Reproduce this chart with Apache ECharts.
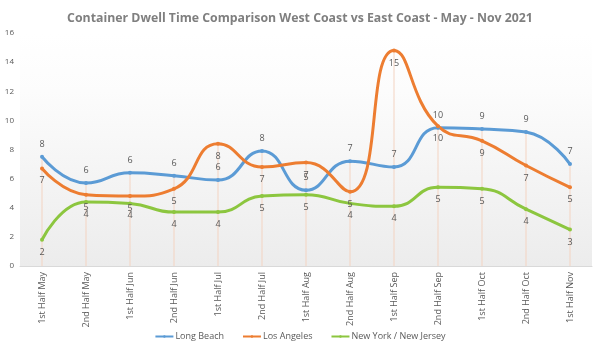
<!DOCTYPE html>
<html>
<head>
<meta charset="utf-8">
<script src="https://cdn.jsdelivr.net/npm/echarts@6/dist/echarts.min.js"></script>
<style>
  html, body { margin: 0; padding: 0; background: #fff; }
  #main { width: 600px; height: 352px; }
</style>
</head>
<body>
<div id="main"></div>
<script>
var categories = ['1st Half May', '2nd Half May', '1st Half Jun', '2nd Half Jun', '1st Half Jul', '2nd Half Jul',
  '1st Half Aug', '2nd Half Aug', '1st Half Sep', '2nd Half Sep', '1st Half Oct', '2nd Half Oct', '1st Half Nov'];
var longBeach = [7.5, 5.7, 6.4, 6.2, 5.9, 7.9, 5.2, 7.2, 6.8, 9.5, 9.4, 9.2, 7.0];
var losAngeles = [6.7, 4.9, 4.8, 5.3, 8.4, 6.8, 7.1, 5.1, 14.8, 9.6, 8.6, 6.9, 5.4];
var newYork = [1.8, 4.4, 4.3, 3.7, 3.7, 4.8, 4.9, 4.3, 4.1, 5.4, 5.3, 3.9, 2.5];

// drop lines go up to the highest point of each category
var dropLines = categories.map(function (c, i) {
  return Math.max(longBeach[i], losAngeles[i], newYork[i]);
});

var labelColor = '#595959';
var fontFam = '"Open Sans", "Liberation Sans", sans-serif';

var myChart = echarts.init(document.getElementById('main'));

function lineSeries(name, data, color, pos) {
  return {
    name: name,
    type: 'line',
    smooth: 0.5,
    data: data,
    symbol: 'circle',
    symbolSize: 4,
    itemStyle: { color: color },
    lineStyle: { color: color, width: 3 },
    z: 3,
    label: {
      show: true,
      position: pos,
      distance: 6,
      fontSize: 9,
      color: labelColor,
      fontFamily: fontFam,
      formatter: function (p) {
        return Math.round(p.value);
      }
    }
  };
}

myChart.setOption({
  animation: false,
  title: {
    text: 'Container Dwell Time Comparison West Coast vs East Coast - May - Nov 2021',
    left: 'center',
    top: 7,
    textStyle: { color: '#7f7f7f', fontSize: 12.3, fontWeight: 'bold', fontFamily: fontFam }
  },
  grid: {
    left: 20,
    right: 8,
    top: 33,
    bottom: 86,
    show: true,
    borderWidth: 0,
    backgroundColor: new echarts.graphic.LinearGradient(0, 0, 0, 1, [
      { offset: 0, color: '#ffffff' },
      { offset: 0.25, color: '#fcfcfc' },
      { offset: 1, color: '#ececec' }
    ])
  },
  legend: {
    bottom: 6,
    left: 'center',
    itemWidth: 18,
    itemHeight: 3,
    itemGap: 18,
    data: ['Long Beach', 'Los Angeles', 'New York / New Jersey'],
    textStyle: { color: labelColor, fontSize: 9, fontFamily: fontFam, padding: [0, 0, 0, -3] }
  },
  xAxis: {
    type: 'category',
    data: categories,
    boundaryGap: true,
    axisLine: { lineStyle: { color: '#d9d9d9' } },
    axisTick: { show: false },
    axisLabel: { rotate: 90, fontSize: 9, color: labelColor, fontFamily: fontFam, margin: 6, interval: 0 }
  },
  yAxis: {
    type: 'value',
    min: 0,
    max: 16,
    interval: 2,
    axisLine: { show: false },
    axisTick: { show: false },
    splitLine: { show: false },
    axisLabel: { fontSize: 8, color: labelColor, margin: 6, fontFamily: fontFam }
  },
  series: [
    {
      name: 'drop',
      type: 'bar',
      data: dropLines,
      barWidth: 1,
      silent: true,
      itemStyle: { color: '#f3d3c2' },
      z: 1
    },
    lineSeries('Long Beach', longBeach, '#5b9bd5', 'top'),
    lineSeries('Los Angeles', losAngeles, '#ed7d31', 'bottom'),
    lineSeries('New York / New Jersey', newYork, '#8cc63f', 'bottom')
  ]
});

window.addEventListener('resize', function () {
  myChart.resize();
});
</script>
</body>
</html>
